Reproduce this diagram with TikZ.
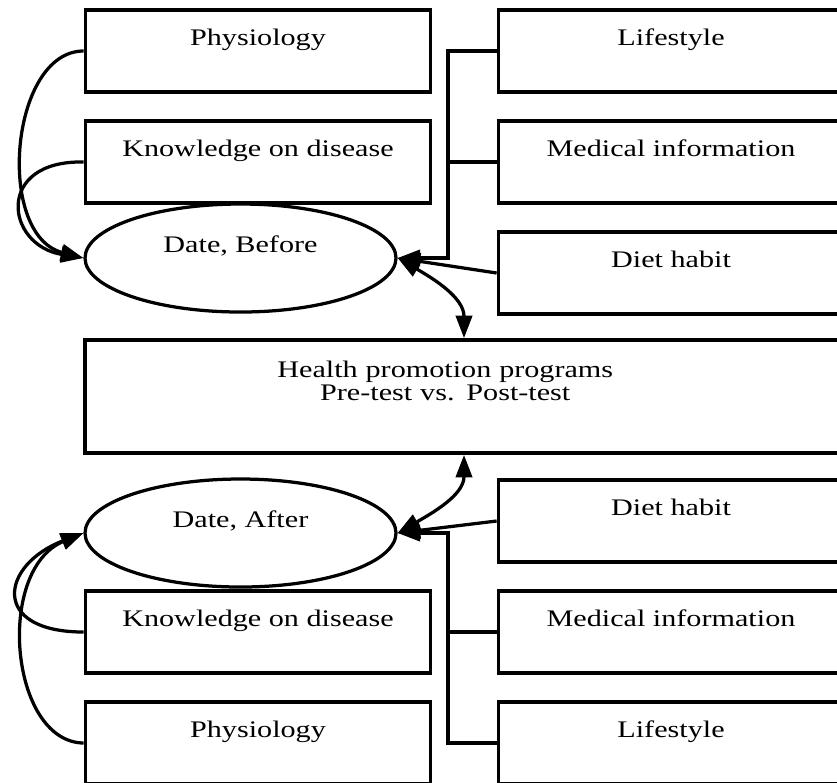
\documentclass[tikz,border=0pt]{standalone}
\usepackage{fontspec}
\setmainfont{Liberation Serif}[FakeStretch=1.27]
\usetikzlibrary{shapes.geometric, arrows.meta, positioning}

\begin{document}
\begin{tikzpicture}[
    x=0.4pt, y=-0.4pt,
    box/.style={rectangle, draw, line width=1.5pt, minimum width=138pt, inner sep=0pt, text height=14.2pt, text depth=18.6pt, font=\fontsize{9.5pt}{9.5pt}\selectfont},
    wide/.style={rectangle, draw, line width=1.5pt, text width=303.2pt, inner sep=0pt, align=center, text height=14.8pt, text depth=30.4pt, font=\fontsize{9.5pt}{9.2pt}\selectfont},
    oval/.style={ellipse, draw, line width=1.3pt, minimum width=124.4pt, minimum height=43.2pt, inner sep=0pt, text height=7pt, text depth=11.8pt, font=\fontsize{9.5pt}{9.5pt}\selectfont},
    arrow/.style={-{Triangle[length=9pt, width=6.5pt]}, line width=1.3pt},
    dbl/.style={{Triangle[length=9pt, width=6.5pt]}-{Triangle[length=9pt, width=6.5pt]}, line width=1.3pt},
    link/.style={line width=1.3pt}
]
\useasboundingbox (0,0) rectangle (837,782);

% upper half
\node[box] (phys1) at (258,51) {Physiology};
\node[box, right=25.7pt of phys1] (life1) {Lifestyle};
\node[box, below=10.1pt of phys1] (know1) {Knowledge on disease};
\node[box, below=10.1pt of life1] (med1) {Medical information};
\node[box, below=10.1pt of med1] (diet1) {Diet habit};
\node[oval] (before) at (240.5,258) {Date, Before};

\node[wide] (health) at (464,396.5) {\hspace*{-15pt}Health promotion programs\\\hspace*{-15pt}Pre-test vs. Post-test};

% lower half
\node[oval] (after) at (240.5,533) {Date, After};
\node[box] (diet2) at (671,521) {Diet habit};
\node[box, below=10.1pt of diet2] (med2) {Medical information};
\node[box, below=10.1pt of med2] (life2) {Lifestyle};
\node[box, left=25.7pt of med2] (know2) {Knowledge on disease};
\node[box, left=25.7pt of life2] (phys2) {Physiology};

\coordinate (bar) at (448,0);

\draw[arrow] (life1.west) -| (bar |- before.east) -- (before.east);
\draw[link] (med1.west) -- (med1.west -| bar);
\draw[arrow] (diet1.west) -- (before.east);
\draw[dbl] (before.east) to[out=-30, in=90] (health.north);
\draw[arrow] (phys1.west) .. controls (10,51) and (-5,235) .. (before.west);
\draw[arrow] (know1.west) .. controls (-5,160) and (5,245) .. (before.west);

\draw[arrow] (life2.west) -| (bar |- after.east) -- (after.east);
\draw[link] (med2.west) -- (med2.west -| bar);
\draw[arrow] (diet2.west) -- (after.east);
\draw[dbl] (after.east) to[out=30, in=-90] (health.south);
\draw[arrow] (know2.west) .. controls (-10,632) and (0,565) .. (after.west);
\draw[arrow] (phys2.west) .. controls (10,742) and (-5,570) .. (after.west);
\end{tikzpicture}
\end{document}
